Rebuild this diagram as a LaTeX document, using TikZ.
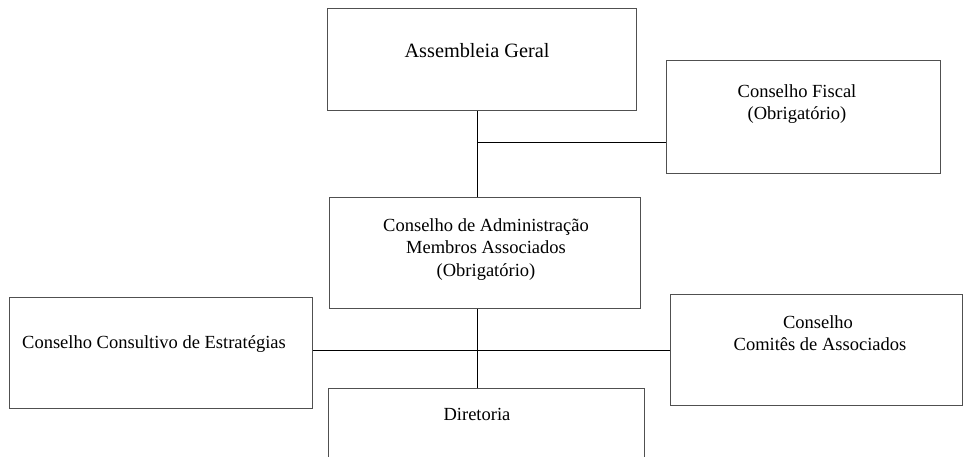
\documentclass[tikz,border=0pt]{standalone}
\usepackage{fontspec}
\setmainfont{Liberation Serif}
\definecolor{boxline}{RGB}{80,80,80}
\begin{document}
\begin{tikzpicture}[x=1pt,y=-1pt,
  orgbox/.style={draw=boxline,line width=1pt,fill=none,rectangle,inner sep=0pt,anchor=north west},
  lbl/.style={inner sep=0pt,anchor=base,font=\fontsize{18.5}{22}\selectfont},
  biglbl/.style={inner sep=0pt,anchor=base,font=\fontsize{20.3}{24}\selectfont},
  conn/.style={draw=black,line width=1pt}]
\useasboundingbox (0,0) rectangle (965,456);
\clip (0,0) rectangle (965,456);
% boxes
\node[orgbox,minimum width=309pt,minimum height=102pt] (ag) at (327,8) {};
\node[orgbox,minimum width=274pt,minimum height=113pt] (cf) at (666,60) {};
\node[orgbox,minimum width=311pt,minimum height=111pt] (ca) at (329,197) {};
\node[orgbox,minimum width=303pt,minimum height=111pt] (cc) at (9,297) {};
\node[orgbox,minimum width=292pt,minimum height=111pt] (cm) at (670,294) {};
\node[orgbox,minimum width=316pt,minimum height=100pt] (dir) at (328,388) {};
% texts
\node[biglbl] (agt) at (477,57) {Assembleia Geral};
\node[lbl] (cft1) at (797,97) {Conselho Fiscal};
\node[lbl] (cft2) at (797,119) {(Obrigatório)};
\node[lbl] (cat1) at (486,231) {Conselho de Administração};
\node[lbl] (cat2) at (486,253.5) {Membros Associados};
\node[lbl] (cat3) at (486,276) {(Obrigatório)};
\node[lbl,anchor=base west] (cct) at (22,348) {Conselho Consultivo de Estratégias};
\node[lbl] (cmt1) at (818,328) {Conselho};
\node[lbl] (cmt2) at (820,350) {Comitês de Associados};
\node[lbl] (dirt) at (477,420) {Diretoria};
% connectors
\coordinate (vx) at (477,0);
\coordinate (j1) at (477,142);
\coordinate (j2) at (477,350);
\draw[conn] (ag.south -| vx) -- (ca.north -| vx);
\draw[conn] (j1) -- (j1 -| cf.west);
\draw[conn] (ca.south -| vx) -- (dir.north -| vx);
\draw[conn] (j2 -| cc.east) -- (j2 -| cm.west);
\end{tikzpicture}
\end{document}
